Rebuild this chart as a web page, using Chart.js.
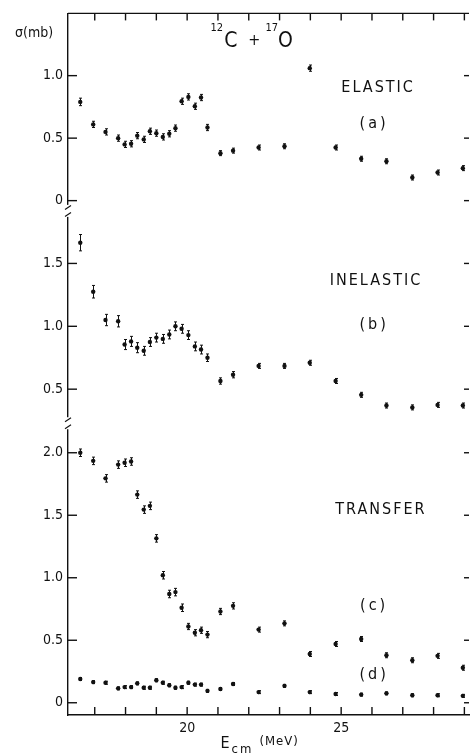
<!DOCTYPE html>
<html>
<head>
<meta charset="utf-8">
<script src="https://cdn.jsdelivr.net/npm/chart.js@4.4.1/dist/chart.umd.min.js"></script>
<style>
  html, body { margin: 0; padding: 0; background: #fff; }
  #wrap { width: 473px; height: 756px; }
</style>
</head>
<body>
<div id="wrap"><canvas id="c" width="473" height="756"></canvas></div>
<script>
// Centre-of-mass energies (MeV) shared by all excitation functions
const energy = [16.53, 16.95, 17.35, 17.76, 17.97, 18.18, 18.38, 18.59, 18.79, 19.00,
                19.21, 19.42, 19.62, 19.82, 20.04, 20.25, 20.45, 20.66, 21.08, 21.49,
                22.32, 23.16, 23.98, 24.82, 25.65, 26.47, 27.31, 28.13, 28.95];

// (a) elastic cross section, mb
const elastic = [0.79, 0.61, 0.55, 0.50, 0.45, 0.455, 0.52, 0.49, 0.555, 0.54,
                 0.51, 0.535, 0.58, 0.795, 0.83, 0.755, 0.825, 0.585, 0.38, 0.40,
                 0.425, 0.435, 1.06, 0.425, 0.335, 0.315, 0.185, 0.225, 0.26];
const elasticErr = [0.03, 0.025, 0.025, 0.025, 0.025, 0.025, 0.025, 0.025, 0.025, 0.025,
                    0.025, 0.025, 0.025, 0.025, 0.025, 0.025, 0.025, 0.025, 0.02, 0.02,
                    0.02, 0.02, 0.025, 0.02, 0.02, 0.02, 0.02, 0.02, 0.02];

// (b) inelastic cross section, mb
const inelastic = [1.665, 1.275, 1.05, 1.04, 0.855, 0.88, 0.83, 0.805, 0.875, 0.91,
                   0.90, 0.935, 1.00, 0.98, 0.93, 0.84, 0.815, 0.75, 0.565, 0.615,
                   0.685, 0.685, 0.71, 0.565, 0.455, 0.37, 0.355, 0.375, 0.37];
const inelasticErr = [0.065, 0.05, 0.045, 0.045, 0.04, 0.04, 0.04, 0.035, 0.035, 0.035,
                      0.035, 0.035, 0.035, 0.035, 0.035, 0.035, 0.035, 0.03, 0.025, 0.025,
                      0.02, 0.02, 0.02, 0.02, 0.02, 0.02, 0.02, 0.02, 0.02];

// (c) transfer cross section, mb
const transferC = [2.00, 1.935, 1.795, 1.905, 1.92, 1.93, 1.665, 1.545, 1.575, 1.315,
                   1.02, 0.87, 0.885, 0.76, 0.61, 0.56, 0.58, 0.545, 0.73, 0.775,
                   0.585, 0.635, 0.39, 0.47, 0.51, 0.38, 0.34, 0.375, 0.28];
const transferCErr = [0.03, 0.03, 0.03, 0.03, 0.03, 0.03, 0.03, 0.03, 0.03, 0.03,
                      0.03, 0.03, 0.03, 0.03, 0.025, 0.025, 0.025, 0.025, 0.025, 0.025,
                      0.02, 0.02, 0.02, 0.02, 0.02, 0.02, 0.02, 0.02, 0.02];

// (d) transfer cross section, mb
const transferD = [0.19, 0.165, 0.16, 0.115, 0.125, 0.125, 0.155, 0.12, 0.12, 0.18,
                   0.16, 0.14, 0.12, 0.125, 0.16, 0.145, 0.145, 0.095, 0.11, 0.15,
                   0.085, 0.135, 0.085, 0.07, 0.065, 0.075, 0.06, 0.06, 0.055];
const transferDErr = energy.map(() => 0.012);

// Axis ticks
const xTicks = [17, 18, 19, 20, 21, 22, 23, 24, 25, 26, 27, 28, 29];
const xLabelled = [20, 25];
const elasticTicks = [0, 0.5, 1.0];
const inelasticTicks = [0.5, 1.0, 1.5];
const transferTicks = [0, 0.5, 1.0, 1.5, 2.0];

const ink = '#111';
const FAMILY = '"DejaVu Sans Condensed", "Liberation Sans Narrow", "DejaVu Sans", sans-serif';

function series(label, values, err, axis) {
  return {
    label,
    data: energy.map((e, i) => ({ x: e, y: values[i] })),
    err,
    yAxisID: axis,
    showLine: false,
    pointStyle: 'circle',
    pointRadius: 2.2,
    pointBorderWidth: 0,
    backgroundColor: ink,
    borderColor: ink
  };
}

const tickFmt = v => (v === 0 ? '0' : v.toFixed(1));

function panelAxis(min, max, weight, ticks) {
  return {
    type: 'linear',
    position: 'left',
    stack: 'panels',
    stackWeight: weight,
    min, max,
    afterBuildTicks: s => { s.ticks = ticks.map(v => ({ value: v })); },
    afterFit: s => { s.width = 68; },
    grid: { display: false, drawTicks: false },
    border: { display: true, color: ink, width: 1.4 },
    ticks: {
      callback: tickFmt,
      padding: 5,
      color: ink,
      font: { family: FAMILY, size: 14 }
    }
  };
}

// Vertical error bars with small caps
const errorBars = {
  id: 'errorBars',
  afterDatasetsDraw(chart) {
    const ctx = chart.ctx;
    const xs = chart.scales.x;
    ctx.save();
    ctx.strokeStyle = ink;
    ctx.lineWidth = 1;
    chart.data.datasets.forEach(d => {
      const ys = chart.scales[d.yAxisID];
      d.data.forEach((p, i) => {
        const e = d.err[i];
        const px = Math.round(xs.getPixelForValue(p.x)) + 0.5;
        const y1 = ys.getPixelForValue(p.y + e);
        const y2 = ys.getPixelForValue(p.y - e);
        ctx.beginPath();
        ctx.moveTo(px, y1); ctx.lineTo(px, y2);
        ctx.moveTo(px - 1.5, y1); ctx.lineTo(px + 1.5, y1);
        ctx.moveTo(px - 1.5, y2); ctx.lineTo(px + 1.5, y2);
        ctx.stroke();
      });
    });
    ctx.restore();
  }
};

// Frame, inward ticks, axis breaks and lettering
const frame = {
  id: 'frame',
  afterDraw(chart) {
    const { ctx, chartArea: a, scales } = chart;
    const xs = scales.x;
    const line = (x1, y1, x2, y2) => { ctx.beginPath(); ctx.moveTo(x1, y1); ctx.lineTo(x2, y2); ctx.stroke(); };
    ctx.save();
    ctx.strokeStyle = ink;
    ctx.lineWidth = 1.4;
    line(a.left, a.top, a.right, a.top);
    xs.ticks.forEach(t => {
      const px = xs.getPixelForValue(t.value);
      line(px, a.top, px, a.top + 7);
      line(px, a.bottom, px, a.bottom - 8);
    });
    ['yA', 'yB', 'yC'].forEach(id => {
      const s = scales[id];
      s.ticks.forEach(t => {
        const py = s.getPixelForValue(t.value);
        line(a.left, py, a.left + 9, py);
        line(a.right - 5, py, a.right, py);
      });
    });
    // axis breaks between panels
    [scales.yA.bottom, scales.yB.bottom].forEach(b => {
      ctx.fillStyle = '#fff';
      ctx.fillRect(a.left - 3, b - 6, 6, 12);
      ctx.lineWidth = 1.2;
      line(a.left - 3, b - 1.5, a.left + 3, b - 5.5);
      line(a.left - 3, b + 5.5, a.left + 3, b + 1.5);
    });

    ctx.fillStyle = ink;
    ctx.textBaseline = 'alphabetic';
    // y-axis unit
    ctx.font = '14px ' + FAMILY;
    ctx.textAlign = 'left';
    ctx.fillText('σ(mb)', 15, 37);

    // reaction title
    const ya = scales.yA;
    let tx = xs.getPixelForValue(20.76);
    const tb = ya.getPixelForValue(1.228);
    const piece = (txt, size, dy, gap) => {
      ctx.font = size + 'px ' + FAMILY;
      ctx.fillText(txt, tx, tb + dy);
      tx += ctx.measureText(txt).width + gap;
    };
    piece('12', 11, -16, 1);
    piece('C', 21, 0, 11);
    piece('+', 16, -2, 5);
    piece('17', 11, -16, 0);
    piece('O', 21, 0, 0);

    // panel labels
    ctx.textAlign = 'center';
    ctx.textBaseline = 'middle';
    const label = (txt, e, v, axis, size, spacing) => {
      ctx.font = size + 'px ' + FAMILY;
      ctx.letterSpacing = spacing + 'px';
      ctx.fillText(txt, xs.getPixelForValue(e), scales[axis].getPixelForValue(v));
      ctx.letterSpacing = '0px';
    };
    label('ELASTIC', 26.2, 0.90, 'yA', 16, 2);
    label('(a)', 26.07, 0.617, 'yA', 16, 3);
    label('INELASTIC', 26.13, 1.358, 'yB', 16, 2);
    label('(b)', 26.07, 1.011, 'yB', 16, 3);
    label('TRANSFER', 26.29, 1.545, 'yC', 16, 2);
    label('(c)', 26.07, 0.775, 'yC', 16, 3);
    label('(d)', 26.07, 0.22, 'yC', 16, 3);

    // x-axis title
    ctx.textAlign = 'left';
    ctx.textBaseline = 'alphabetic';
    let ax = (a.left + a.right) / 2 - 48;
    ctx.font = '16px ' + FAMILY;
    ctx.fillText('E', ax, a.bottom + 33);
    ax += ctx.measureText('E').width + 2;
    ctx.font = '13px ' + FAMILY;
    ctx.letterSpacing = '2px';
    ctx.fillText('cm', ax, a.bottom + 38);
    ax += ctx.measureText('cm').width + 6;
    ctx.font = '13px ' + FAMILY;
    ctx.letterSpacing = '1px';
    ctx.fillText('(MeV)', ax, a.bottom + 30);
    ctx.letterSpacing = '0px';
    ctx.restore();
  }
};

new Chart(document.getElementById('c'), {
  type: 'scatter',
  data: {
    datasets: [
      series('elastic', elastic, elasticErr, 'yA'),
      series('inelastic', inelastic, inelasticErr, 'yB'),
      series('transfer (c)', transferC, transferCErr, 'yC'),
      series('transfer (d)', transferD, transferDErr, 'yC')
    ]
  },
  options: {
    responsive: false,
    animation: false,
    devicePixelRatio: 1,
    layout: { padding: { top: 8, left: 0, right: 0, bottom: 0 } },
    plugins: { legend: { display: false }, tooltip: { enabled: false }, title: { display: false } },
    scales: {
      x: {
        type: 'linear',
        position: 'bottom',
        min: 16.132,
        max: 29.15,
        afterBuildTicks: s => { s.ticks = xTicks.map(v => ({ value: v })); },
        afterFit: s => { s.height = 41; },
        grid: { display: false, drawTicks: false },
        border: { display: true, color: ink, width: 1.4 },
        ticks: {
          autoSkip: false,
          maxRotation: 0,
          padding: 5,
          color: ink,
          font: { family: FAMILY, size: 14 },
          callback: v => (xLabelled.includes(v) ? String(v) : '')
        }
      },
      yC: panelAxis(-0.098, 2.236, 294, transferTicks),
      yB: panelAxis(0.229, 1.918, 214, inelasticTicks),
      yA: panelAxis(-0.082, 1.498, 199, elasticTicks)
    }
  },
  plugins: [errorBars, frame]
});
</script>
</body>
</html>
